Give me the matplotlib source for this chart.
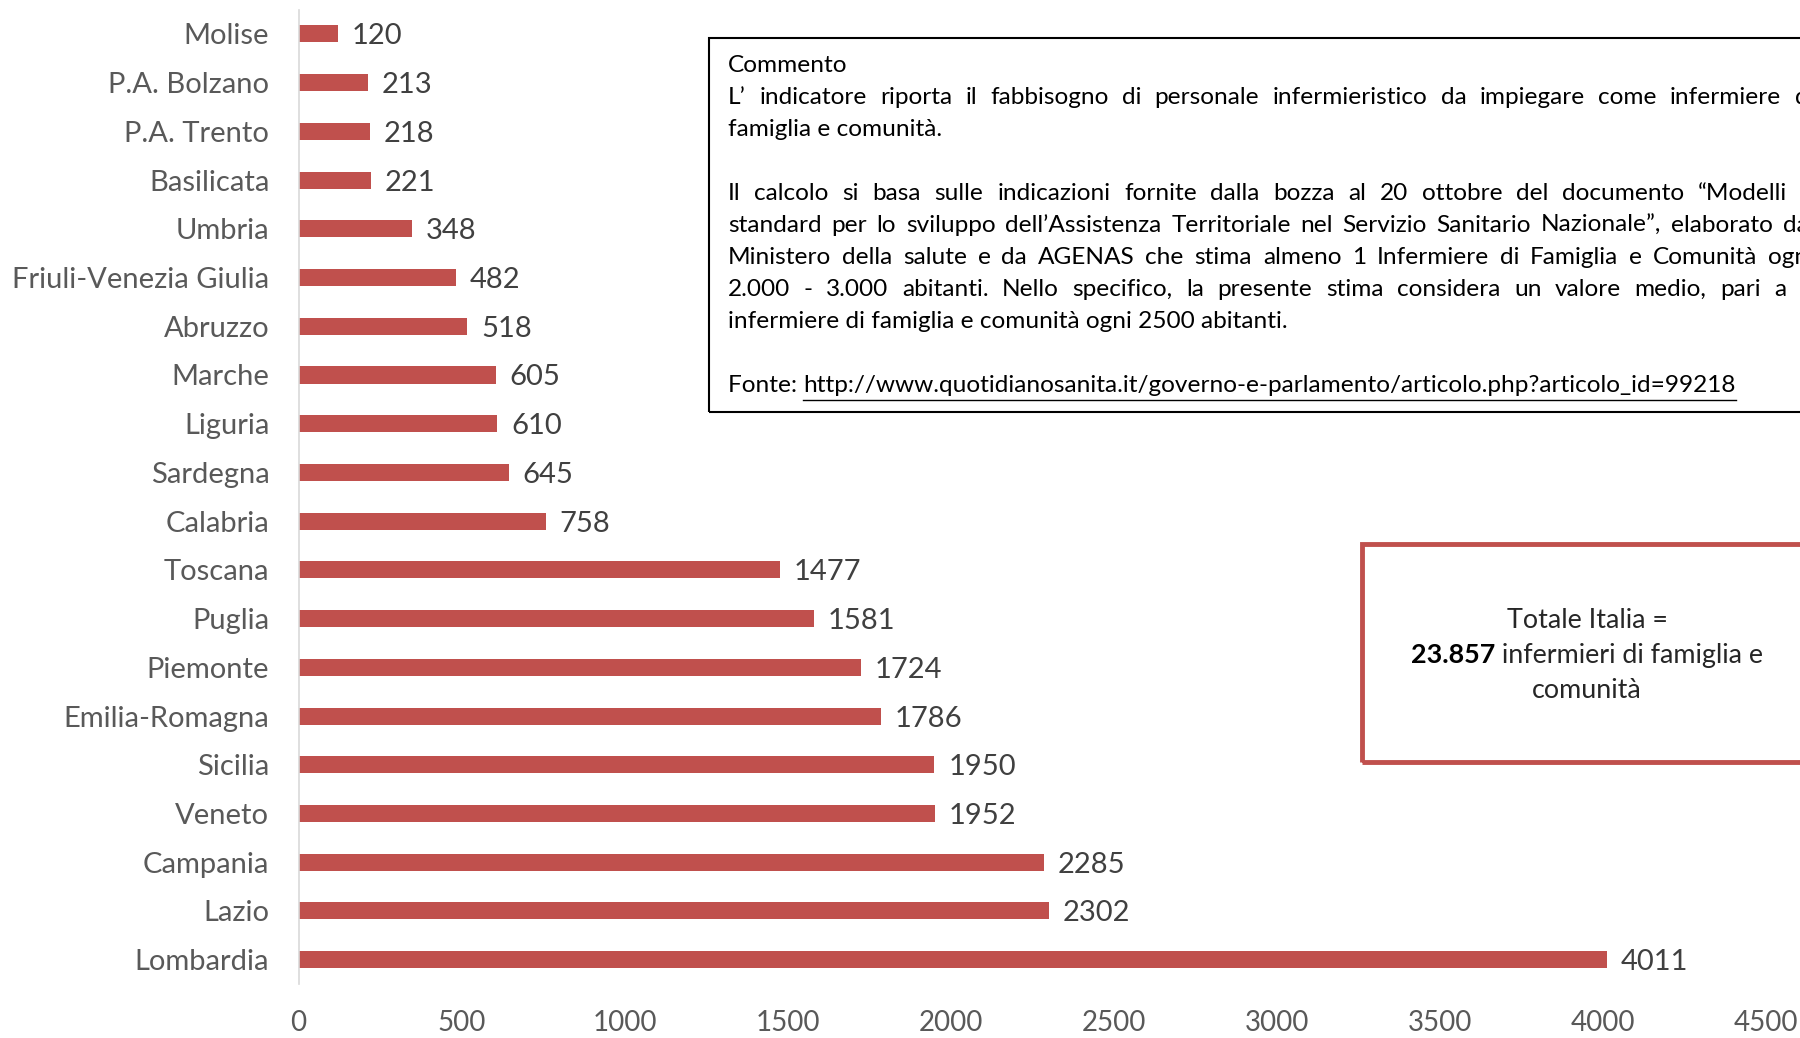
import numpy as np
import matplotlib
matplotlib.use('Agg')
import matplotlib.pyplot as plt
from matplotlib.patches import Rectangle
from matplotlib.lines import Line2D

regioni = ['Molise', 'P.A. Bolzano', 'P.A. Trento', 'Basilicata', 'Umbria',
           'Friuli-Venezia Giulia', 'Abruzzo', 'Marche', 'Liguria', 'Sardegna',
           'Calabria', 'Toscana', 'Puglia', 'Piemonte', 'Emilia-Romagna',
           'Sicilia', 'Veneto', 'Campania', 'Lazio', 'Lombardia']
infermieri = [120, 213, 218, 221, 348, 482, 518, 605, 610, 645,
              758, 1477, 1581, 1724, 1786, 1950, 1952, 2285, 2302, 4011]
xticks = [0, 500, 1000, 1500, 2000, 2500, 3000, 3500, 4000, 4500]

# testo del commento: (riga, giustificata?)
commento = [
    ("L\u2019 indicatore riporta il fabbisogno di personale infermieristico da impiegare come  infermiere di", True),
    ("famiglia e comunità.", False),
    ("", False),
    ("Il calcolo si basa sulle indicazioni fornite dalla bozza al 20 ottobre del documento \u201cModelli e", True),
    ("standard per lo sviluppo dell\u2019Assistenza Territoriale nel Servizio Sanitario Nazionale\u201d, elaborato dal", True),
    ("Ministero della salute e da AGENAS  che stima almeno 1 Infermiere di Famiglia e Comunità ogni", True),
    ("2.000 - 3.000 abitanti. Nello specifico, la presente stima considera un valore medio, pari a 1", True),
    ("infermiere di famiglia e comunità ogni 2500 abitanti.", False),
    ("", False),
]
fonte_url = "http://www.quotidianosanita.it/governo-e-parlamento/articolo.php?articolo_id=99218"

plt.rcParams['font.family'] = ['Lato', 'DejaVu Sans']

W, H = 1800, 1038
fig = plt.figure(figsize=(18, 10.38), dpi=100)
ax = fig.add_axes([298.5 / W, 1 - 984 / H, (1766 - 298.5) / W, (984 - 9.6) / H])

rosso = '#C0504D'
grigio = '#595959'
y = np.arange(len(regioni))
ax.barh(y, infermieri, height=0.35, color=rosso)
for yi, v in zip(y, infermieri):
    ax.annotate(str(v), (v, yi), xytext=(10, 0), textcoords='offset points',
                va='center_baseline', ha='left', fontsize=21, color='#404040')

ax.set_ylim(len(regioni) - 0.5, -0.5)
ax.set_xlim(0, 4500)
ax.set_yticks(y)
ax.set_yticklabels(regioni, fontsize=21, color=grigio)
ax.set_xticks(xticks)
ax.set_xticklabels([str(t) for t in xticks], fontsize=20, color=grigio)
ax.tick_params(axis='both', length=0)
ax.tick_params(axis='y', pad=21)
ax.tick_params(axis='x', pad=19)
for s in ['top', 'right', 'bottom']:
    ax.spines[s].set_visible(False)
ax.spines['left'].set_color('#D9D9D9')
ax.spines['left'].set_linewidth(1.2)

renderer = fig.canvas.get_renderer()


def px(x, yy):
    return x / W, 1 - yy / H


def larghezza(t):
    return t.get_window_extent(renderer).width


# riquadro commento
fig.patches.append(Rectangle(px(709, 412), (1830 - 709) / W, (412 - 38) / H,
                             transform=fig.transFigure, fill=False,
                             edgecolor='black', linewidth=1.5))
fs_c = 17.6
x0, x1 = 728, 1814
fig.text(*px(x0, 65), 'Commento', fontsize=fs_c, color='black', va='center')
riga_y = 97.5
for riga, giust in commento:
    if riga and giust:
        parole = riga.split()
        testi = [fig.text(0, 0, p, fontsize=fs_c, va='center') for p in parole]
        tot = sum(larghezza(t) for t in testi)
        gap = (x1 - x0 - tot) / (len(parole) - 1)
        xx = x0
        for t in testi:
            t.set_position(px(xx, riga_y))
            xx += larghezza(t) + gap
    elif riga:
        fig.text(*px(x0, riga_y), riga, fontsize=fs_c, va='center')
    riga_y += 32
t_f = fig.text(*px(x0, 386), 'Fonte: ', fontsize=fs_c, va='center')
xu = x0 + larghezza(t_f)
t_u = fig.text(*px(xu, 386), fonte_url, fontsize=fs_c, va='center')
fig.lines.append(Line2D([xu / W, (xu + larghezza(t_u)) / W], [1 - 400 / H] * 2,
                        transform=fig.transFigure, color='black', linewidth=1))

# riquadro totale
fig.patches.append(Rectangle(px(1362, 762), (1830 - 1362) / W, (762 - 544) / H,
                             transform=fig.transFigure, fill=False,
                             edgecolor=rosso, linewidth=3.5))
cx = 1587
fs_t = 19.4
fig.text(*px(cx, 620), 'Totale Italia =', fontsize=fs_t,
         ha='center', va='center', color='#262626')
tb = fig.text(0, 0, '23.857', fontsize=fs_t, fontweight='bold', va='center', color='black')
tn = fig.text(0, 0, ' infermieri di famiglia e', fontsize=fs_t,
              va='center', color='#262626')
wb, wn = larghezza(tb), larghezza(tn)
xs = cx - (wb + wn) / 2
tb.set_position(px(xs, 655))
tn.set_position(px(xs + wb, 655))
fig.text(*px(cx, 690), 'comunità', fontsize=fs_t,
         ha='center', va='center', color='#262626')

fig.savefig('out.png', dpi=100)
